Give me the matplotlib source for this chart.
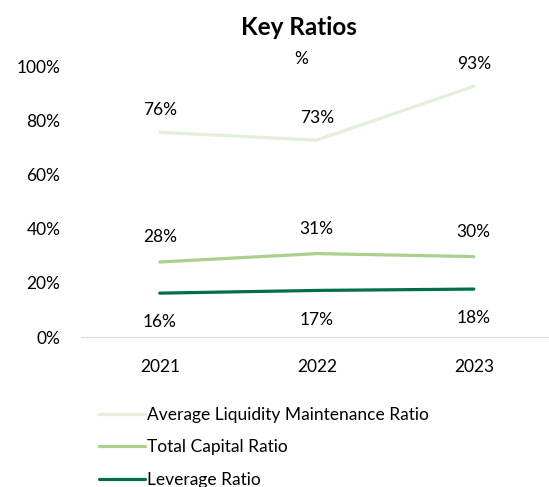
import matplotlib.pyplot as plt

plt.rcParams['font.family'] = ['Lato', 'DejaVu Sans']

years = ['2021', '2022', '2023']
liquidity = [75.6, 72.7, 92.6]
capital = [27.7, 30.8, 29.7]
leverage = [16.2, 17.2, 17.7]

liq_labels = ['76%', '73%', '93%']
cap_labels = ['28%', '31%', '30%']
lev_labels = ['16%', '17%', '18%']

fig = plt.figure(figsize=(5.49, 4.87), dpi=100)
ax = fig.add_axes([0.148, 0.308, 0.858, 0.556])

x = range(len(years))
ax.plot(x, liquidity, color='#E2EFDA', lw=2.3, solid_capstyle='round',
        label='Average Liquidity Maintenance Ratio')
ax.plot(x, capital, color='#A9D08E', lw=2.3, solid_capstyle='round',
        label='Total Capital Ratio')
ax.plot(x, leverage, color='#006E4B', lw=2.3, solid_capstyle='round',
        label='Leverage Ratio')

for i in x:
    ax.annotate(liq_labels[i], (i, liquidity[i]), xytext=(0, 16),
                textcoords='offset points', ha='center', va='center', fontsize=12.5)
    ax.annotate(cap_labels[i], (i, capital[i]), xytext=(0, 18),
                textcoords='offset points', ha='center', va='center', fontsize=12.5)
    ax.annotate(lev_labels[i], (i, leverage[i]), xytext=(0, -21),
                textcoords='offset points', ha='center', va='center', fontsize=12.5)

# stray percent sign near the top
ax.text(0.9, 102.5, '%', ha='center', va='center', fontsize=12.5)

ax.set_xlim(-0.5, 2.5)
ax.set_ylim(0, 100)
ax.set_yticks([0, 20, 40, 60, 80, 100])
ax.set_yticklabels(['0%', '20%', '40%', '60%', '80%', '100%'])
ax.set_xticks(list(x))
ax.set_xticklabels(years)
ax.tick_params(length=0, labelsize=12.5)
ax.tick_params(axis='x', pad=16)
ax.tick_params(axis='y', pad=15)
for s in ['top', 'right', 'left']:
    ax.spines[s].set_visible(False)
ax.spines['bottom'].set_color('#D9D9D9')

fig.text(0.545, 0.943, 'Key Ratios', ha='center', va='center',
         fontsize=17.5, fontweight='bold')

fig.legend(loc='upper left', bbox_to_anchor=(0.181, 0.165), frameon=False,
           fontsize=12.5, handlelength=2.6, handletextpad=0.15, labelspacing=0.95,
           borderaxespad=0, borderpad=0)

fig.savefig('out.png', dpi=100)
